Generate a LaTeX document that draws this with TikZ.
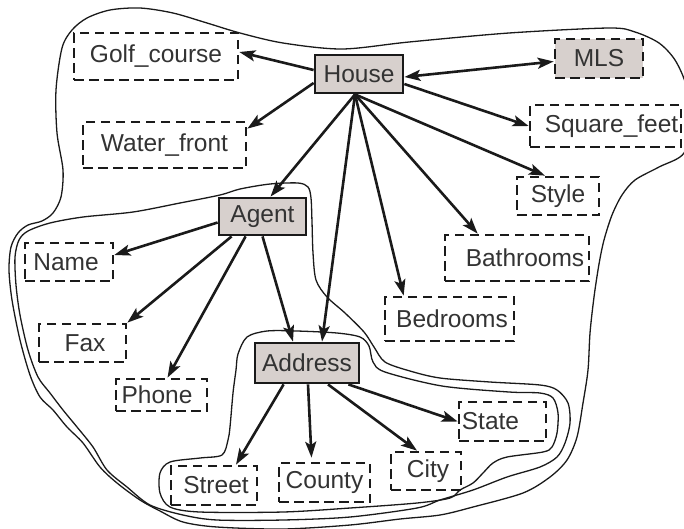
\documentclass[tikz,border=0pt]{standalone}
\usepackage{fontspec}
\setmainfont{Liberation Sans}
\usetikzlibrary{arrows.meta}

\definecolor{linecol}{HTML}{1A1A1A}
\definecolor{txtcol}{HTML}{333333}
\definecolor{boxfill}{HTML}{D7D0CD}

\begin{document}
\begin{tikzpicture}[x=1pt,y=-1pt,
  lbl/.style={inner sep=0pt, text=txtcol, font=\fontsize{24.5}{28}\selectfont},
  sz/.style 2 args={minimum width=#1pt, minimum height=#2pt},
  solidbox/.style={lbl, draw=linecol, line width=2.8pt, fill=boxfill},
  dashbox/.style={lbl, draw=linecol, line width=2.7pt, dash pattern=on 9.5pt off 5.5pt},
  tx/.style={execute at begin node={\kern#1}},
  tip/.tip={Stealth[length=16pt,width=11pt,inset=3.5pt]},
  arr/.style={draw=linecol, line width=2.6pt, -tip},
  darr/.style={draw=linecol, line width=2.6pt, tip-tip},
  region/.style={draw=linecol, line width=1.3pt}
]
\useasboundingbox (0,0) rectangle (684,528);

% enclosing outlines
\draw[region] plot[smooth cycle, tension=0.5] coordinates {
  (110,10) (140,8) (173,13) (207,23) (240,33) (283,43) (342,49) (409,42)
  (509,33) (609,28) (635,32) (659,43) (675,60) (686,85) (690,118) (684,153)
  (659,167) (635,180) (622,195) (612,215) (604,240) (599,264) (594,297)
  (590,333) (588,370) (583,403) (577,437) (567,460) (550,477) (523,493)
  (473,507) (440,515) (400,519) (350,525) (283,529) (217,527) (183,522)
  (160,511) (140,500) (117,483) (100,467) (83,443) (67,427) (53,410)
  (40,397) (30,375) (20,340) (12,300) (9,270) (11,247) (18,233) (28,225)
  (42,221) (53,213) (61,197) (63,170) (57,133) (56,90) (62,48) (72,30) (87,18)};

\draw[region] plot[smooth cycle, tension=0.5] coordinates {
  (15,257) (19,240) (28,231) (50,223) (83,217) (133,212) (180,203) (220,195)
  (240,189) (270,184) (298,183) (308,187) (311,198) (312,222) (313,253)
  (316,280) (327,297) (345,313) (364,332) (374,347) (385,362) (410,371)
  (440,378) (490,382) (540,385) (557,390) (568,403) (570,423) (565,443)
  (557,457) (540,467) (507,477) (473,490) (440,500) (417,508) (350,517)
  (283,520) (217,520) (183,515) (150,505) (127,487) (107,470) (93,447)
  (77,427) (63,410) (50,393) (38,377) (28,350) (20,315) (16,285)};

\draw[region] plot[smooth cycle, tension=0.5] coordinates {
  (238,354) (247,337) (267,331) (297,331) (337,333) (360,337) (369,346)
  (373,362) (385,372) (442,386) (509,392) (540,393) (553,398) (558,413)
  (557,433) (552,447) (543,452) (507,457) (493,463) (483,473) (473,483)
  (460,490) (450,498) (417,503) (350,508) (283,512) (200,512) (170,507)
  (160,493) (160,473) (170,462) (200,458) (222,455) (228,440) (230,427)
  (233,393) (236,370)};

% entities
\node[solidbox, sz={88}{38}] (house) at (359,74) {House};
\node[dashbox, fill=boxfill, sz={88}{39}] (mls) at (599,58.5) {MLS};
\node[dashbox, sz={164}{47}] (golf) at (156,56.5) {Golf\_course};
\node[dashbox, sz={163}{46}] (water) at (164.5,145) {Water\_front};
\node[dashbox, sz={151}{42}, tx=12pt] (sqft) at (605.5,126) {Square\_feet};
\node[dashbox, sz={82}{38}] (style) at (558,196) {Style};
\node[dashbox, sz={144}{46}, tx=16pt] (bath) at (517,258) {Bathrooms};
\node[dashbox, sz={129}{44}, tx=5pt] (bed) at (449.5,319) {Bedrooms};
\node[solidbox, sz={87}{37}] (agent) at (262.5,216.5) {Agent};
\node[dashbox, sz={88}{38}, tx=-6pt] (name) at (69,262) {Name};
\node[dashbox, sz={87}{38}, tx=5pt] (fax) at (82.5,343) {Fax};
\node[dashbox, sz={91}{32}, tx=-9pt] (phone) at (161.5,395) {Phone};
\node[solidbox, sz={104}{40}] (addr) at (307,363) {Address};
\node[dashbox, sz={86}{39}, tx=4pt] (street) at (214,485.5) {Street};
\node[dashbox, sz={91}{39}] (county) at (324.5,482.5) {County};
\node[dashbox, sz={70}{38}, tx=4pt] (city) at (426,471) {City};
\node[dashbox, sz={87}{39}, tx=-24pt] (state) at (502.5,421.5) {State};

% relations of House
\draw[arr] ([yshift=4pt]house.west) -- ([yshift=4.5pt]golf.east);
\draw[arr] ([yshift=-9pt]house.west) -- ([yshift=-8pt]water.north east);
\draw[darr] ([yshift=-3pt]house.east) -- ([yshift=-3pt]mls.west);
\draw[arr] ([yshift=-10pt]house.east) -- (sqft.west);
\draw[arr] ([xshift=-4pt]house.south) -- ([xshift=8pt]agent.north);
\draw[arr] ([xshift=-4pt]house.south) -- ([xshift=-13pt]style.north);
\draw[arr] ([xshift=-4pt]house.south) -- ([xshift=34pt]bath.north west);
\draw[arr] ([xshift=-4pt]house.south) -- ([xshift=20pt]bed.north west);
\draw[arr] ([xshift=-4pt]house.south) -- ([xshift=15pt]addr.north);

% relations of Agent
\draw[arr] ([yshift=-6pt]agent.west) -- ([yshift=7pt]name.east);
\draw[arr] ([xshift=14pt]agent.south west) -- (fax.north east);
\draw[arr] ([xshift=28pt]agent.south west) -- ([xshift=6pt]phone.north);
\draw[arr] (agent.south) -- ([xshift=-14pt]addr.north);

% relations of Address
\draw[arr] ([xshift=30pt]addr.south west) -- ([xshift=22pt]street.north);
\draw[arr] ([xshift=1pt]addr.south) -- ([xshift=-13pt,yshift=4pt]county.north);
\draw[arr] ([xshift=21pt]addr.south) -- ([xshift=-9pt]city.north);
\draw[arr] ([xshift=-12pt]addr.south east) -- (state.west);
\end{tikzpicture}
\end{document}
